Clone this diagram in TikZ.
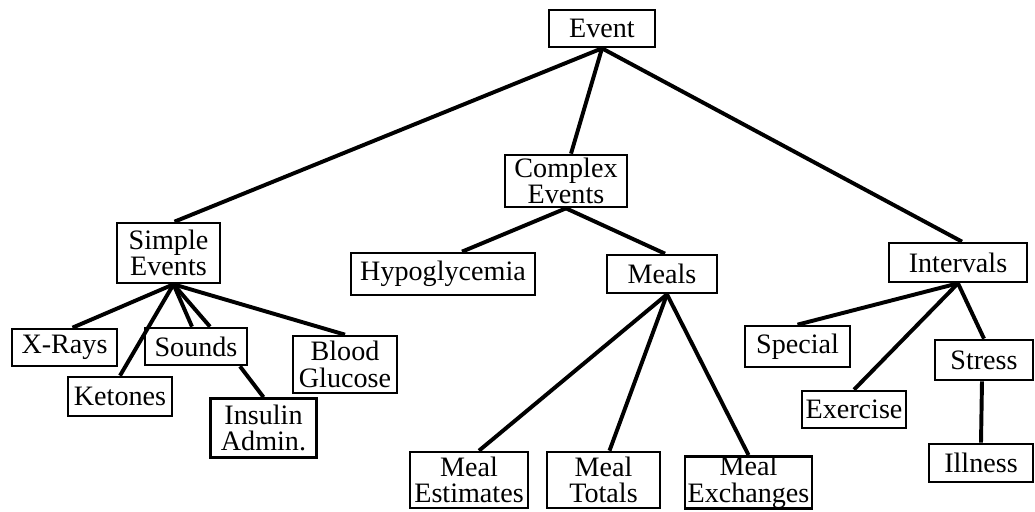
\documentclass[tikz,border=0pt]{standalone}
\usepackage{fontspec}
\setmainfont{Liberation Serif}
\usetikzlibrary{calc}

\newcommand{\evfont}{\fontsize{20}{19}\selectfont}

\tikzset{
  evbox/.style 2 args={draw, line width=1.9pt, inner sep=0pt, align=center,
    font=\evfont, minimum width=#1*0.025cm, minimum height=#2*0.025cm},
  link/.style={line width=2.8pt}
}

\begin{document}
\begin{tikzpicture}[x=0.025cm, y=-0.025cm]
  \useasboundingbox (0,0) rectangle (1035,512);

  % Top level
  \node[evbox={106}{37}] (event) at (602,28.5) {Event};

  % Second level
  \node[evbox={103}{60}] (simple) at (168.5,253) {Simple\\Events};
  \node[evbox={122}{52}] (complex) at (566,181) {Complex\\Events};
  \node[evbox={138}{39}] (intervals) at (958,262.5) {Intervals};

  % Simple events
  \node[evbox={105}{37}] (xrays) at (64.5,347.5) {X-Rays};
  \node[evbox={104}{39}] (ketones) at (120,396.5) {Ketones};
  \node[evbox={102}{37}] (sounds) at (196,346.5) {Sounds};
  \node[evbox={104}{57}] (glucose) at (345,364.5) {Blood\\Glucose};
  \node[evbox={106}{59}] (insulin) at (263.5,428) {Insulin\\Admin.};

  % Complex events
  \node[evbox={184}{42}] (hypo) at (443,274) {Hypoglycemia};
  \node[evbox={110}{38}] (meals) at (662,274) {Meals};
  \node[evbox={118}{56}] (mealest) at (469,480) {Meal\\Estimates};
  \node[evbox={113}{56}] (mealtot) at (603.5,480) {Meal\\Totals};
  \node[evbox={127}{51}] (mealexch) at (748.5,482.5) {Meal\\Exchanges};

  % Intervals
  \node[evbox={105}{41}] (special) at (797.5,346.5) {Special};
  \node[evbox={104}{37}] (exercise) at (854,409.5) {Exercise};
  \node[evbox={98}{40}] (stress) at (984,360) {Stress};
  \node[evbox={104}{38}] (illness) at (981,463) {Illness};

  % Links from the root
  \draw[link] (event.south) -- ($(simple.north)+(6,0)$);
  \draw[link] (event.south) -- ($(complex.north)+(5,0)$);
  \draw[link] (event.south) -- ($(intervals.north)+(4,0)$);

  % Links of simple events
  \draw[link] ($(simple.south)+(5,0)$) -- ($(xrays.north)+(8,0)$);
  \draw[link] ($(simple.south)+(5,0)$) -- (ketones.north);
  \draw[link] ($(simple.south)+(5,0)$) -- ($(sounds.north)+(-4,0)$);
  \draw[link] ($(simple.south)+(5,0)$) -- ($(sounds.north)+(14,0)$);
  \draw[link] ($(simple.south)+(5,0)$) -- (glucose.north);
  \draw[link] ($(sounds.south)+(44,0)$) -- (insulin.north);

  % Links of complex events
  \draw[link] (complex.south) -- ($(hypo.north)+(19,0)$);
  \draw[link] (complex.south) -- ($(meals.north)+(3,0)$);
  \draw[link] ($(meals.south)+(5,0)$) -- ($(mealest.north)+(10,0)$);
  \draw[link] ($(meals.south)+(5,0)$) -- ($(mealtot.north)+(6,0)$);
  \draw[link] ($(meals.south)+(5,0)$) -- (mealexch.north);

  % Links of intervals
  \draw[link] (intervals.south) -- (special.north);
  \draw[link] (intervals.south) -- (exercise.north);
  \draw[link] (intervals.south) -- (stress.north);
  \draw[link] ($(stress.south)+(-2,0)$) -- (illness.north);
\end{tikzpicture}
\end{document}
